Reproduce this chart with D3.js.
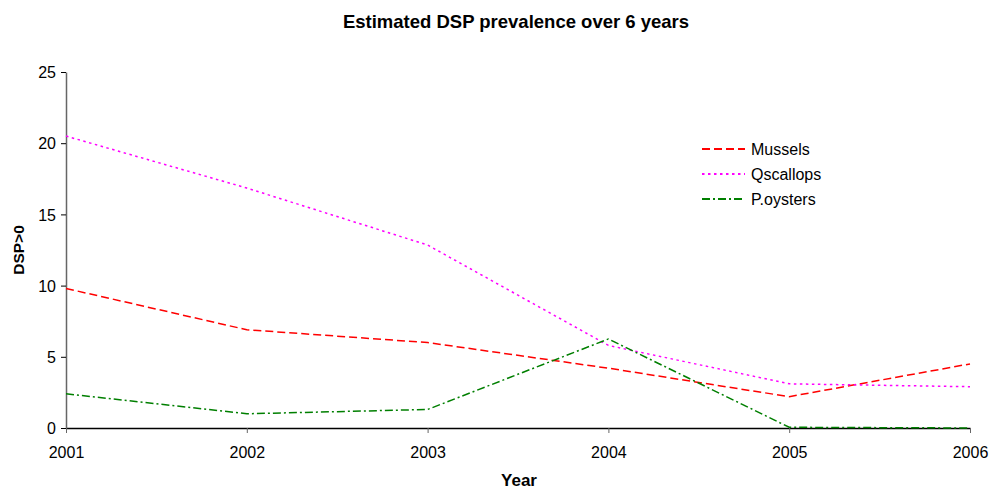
<!DOCTYPE html>
<html>
<head>
<meta charset="utf-8">
<script src="https://cdn.jsdelivr.net/npm/d3@7"></script>
<style>
  html, body { margin: 0; padding: 0; background: #fff; }
  svg { display: block; font-family: "Liberation Sans", Arial, sans-serif; }
</style>
</head>
<body>
<svg id="chart" width="995" height="492"></svg>
<script>
// Years on the x axis
const years = [2001, 2002, 2003, 2004, 2005, 2006];
// Estimated DSP>0 prevalence per species
const mussels   = [9.8, 6.9, 6.0, 4.2, 2.2, 4.5];
const qscallops = [20.5, 16.85, 12.85, 5.8, 3.1, 2.9];
const poysters  = [2.4, 1.0, 1.3, 6.25, 0.05, 0.0];
const yTicks = [0, 5, 10, 15, 20, 25];

const series = [
  { name: "Mussels",   values: mussels,   color: "#ff0000", dash: "8,4" },
  { name: "Qscallops", values: qscallops, color: "#ff00ff", dash: "2.5,3.5" },
  { name: "P.oysters", values: poysters,  color: "#007f00", dash: "8,3,2,3" }
];

const svg = d3.select("#chart");
const x = d3.scaleLinear().domain([2001, 2006]).range([66, 970]);
const y = d3.scaleLinear().domain([0, 25]).range([428, 72]);

// Axes
const xAxis = d3.axisBottom(x).tickValues(years).tickFormat(d3.format("d")).tickSize(5).tickSizeOuter(0);
const gx = svg.append("g").attr("transform", "translate(0,428)").call(xAxis);
gx.select(".domain").attr("stroke", "#000").attr("stroke-width", 1.5);
gx.selectAll(".tick line").attr("stroke", "#666");
gx.selectAll(".tick text").attr("font-size", 16).attr("fill", "#000").attr("y", 30).attr("dy", 0);

const yAxis = d3.axisLeft(y).tickValues(yTicks).tickSize(5).tickSizeOuter(0);
const gy = svg.append("g").attr("transform", "translate(66,0)").call(yAxis);
gy.select(".domain").attr("stroke", "#666").attr("stroke-width", 1.5);
gy.selectAll(".tick line").attr("stroke", "#000");
gy.selectAll(".tick text").attr("font-size", 16).attr("fill", "#000").attr("x", -10).attr("dy", "0.36em");

// Lines
const line = d3.line().x((d, i) => x(years[i])).y(d => y(d));
series.forEach(s => {
  svg.append("path")
    .datum(s.values)
    .attr("fill", "none")
    .attr("stroke", s.color)
    .attr("stroke-width", 1.5)
    .attr("stroke-dasharray", s.dash)
    .attr("d", line);
});

// Title and axis titles
svg.append("text").attr("x", 516).attr("y", 28).attr("text-anchor", "middle")
  .attr("font-size", 18.5).attr("font-weight", "bold").text("Estimated DSP prevalence over 6 years");
svg.append("text").attr("x", 519).attr("y", 486).attr("text-anchor", "middle")
  .attr("font-size", 17).attr("font-weight", "bold").text("Year");
svg.append("text").attr("transform", "translate(24,250) rotate(-90)").attr("text-anchor", "middle")
  .attr("font-size", 15.5).attr("font-weight", "bold").text("DSP>0");

// Legend
const legend = svg.append("g").attr("transform", "translate(702,149)");
series.forEach((s, i) => {
  const g = legend.append("g").attr("transform", `translate(0,${i * 25})`);
  g.append("line").attr("x1", 0).attr("x2", 43).attr("y1", 0).attr("y2", 0)
    .attr("stroke", s.color).attr("stroke-width", 2).attr("stroke-dasharray", s.dash);
  g.append("text").attr("x", 49).attr("y", 6).attr("font-size", 16).attr("fill", "#000").text(s.name);
});
</script>
</body>
</html>
